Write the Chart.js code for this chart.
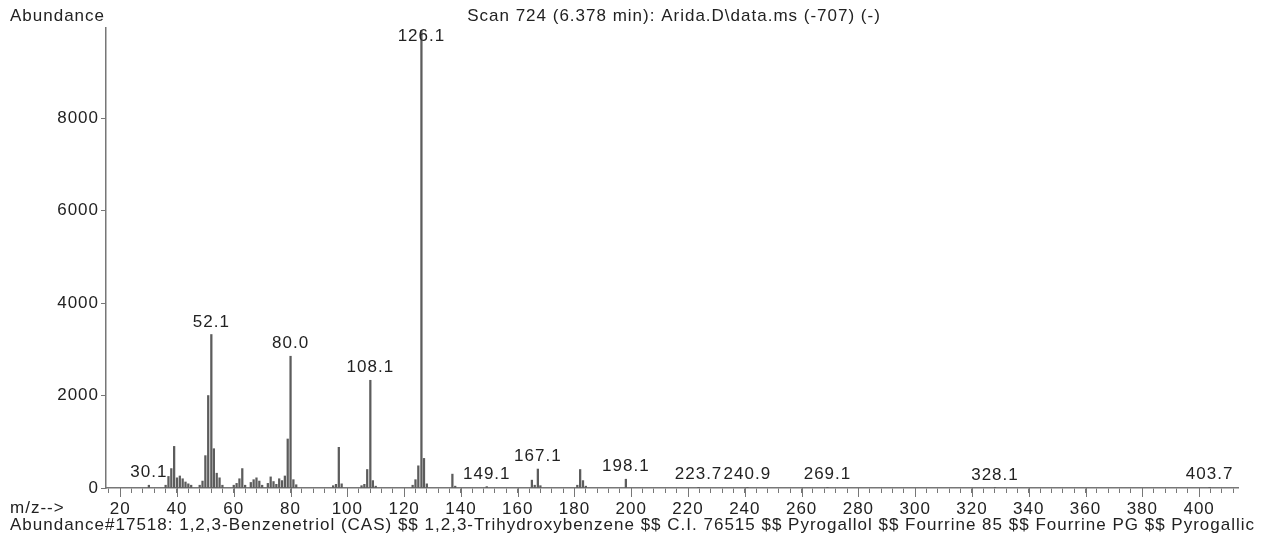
<!DOCTYPE html>
<html>
<head>
<meta charset="utf-8">
<script src="https://cdn.jsdelivr.net/npm/chart.js@4.4.0/dist/chart.umd.min.js"></script>
<style>
  body { margin: 0; background: #fff; }
</style>
</head>
<body>
<canvas id="spectrum" width="1263" height="547"></canvas>
<script>
// scan 724 peak list: m/z and abundance
var mzValues = [30.1, 36, 37, 38, 39, 40, 41, 42, 43, 44, 45,
	48, 49, 50, 51, 52.1, 53, 54, 55, 56,
	60, 61, 62, 63, 64, 66, 67, 68, 69, 70, 72, 73, 74, 75, 76, 77, 78,
	79, 80.0, 81, 82,
	95, 96, 97, 98,
	105, 106, 107, 108.1, 109, 110,
	123, 124, 125, 126.1, 127, 128,
	137, 138, 149.1,
	165, 166, 167.1, 168,
	181, 182, 183, 184,
	198.1, 223.7, 240.9, 269.1, 328.1, 403.7];
var abundances = [60, 60, 250, 420, 900, 220, 260, 200, 130, 90, 60,
	60, 150, 700, 2000, 3320, 850, 320, 220, 60,
	60, 100, 200, 420, 60, 120, 180, 220, 150, 60, 100, 240, 140, 80, 200, 160, 260,
	1060, 2850, 180, 70,
	50, 80, 880, 90,
	50, 80, 400, 2330, 160, 40,
	60, 180, 480, 9900, 640, 90,
	300, 40, 30,
	170, 60, 410, 50,
	60, 400, 160, 40,
	190, 15, 15, 15, 12, 15];
// peaks that get their m/z printed above them
var labelledPeaks = [30.1, 52.1, 80.0, 108.1, 126.1, 149.1, 167.1, 198.1, 223.7, 240.9, 269.1, 328.1, 403.7];
var yTicks = [0, 2000, 4000, 6000, 8000];

var titleText = "Scan 724 (6.378 min): Arida.D\\data.ms (-707) (-)";
var footerText = "Abundance#17518: 1,2,3-Benzenetriol (CAS) $$ 1,2,3-Trihydroxybenzene $$ C.I. 76515 $$ Pyrogallol $$ Fourrine 85 $$ Fourrine PG $$ Pyrogallic";

var FONT = "'Liberation Sans', Arial, sans-serif";
var TEXT_COLOR = "#222";
var AXIS_COLOR = "#777";

var points = mzValues.map((m, i) => ({x: m, y: abundances[i]}));

// m/z labels over the marked peaks + header/footer texts
var annotate = {
	id: "annotate",
	beforeDraw: function(chart) {
		// printout text runs a little wide
		chart.ctx.letterSpacing = "1px";
	},
	afterDatasetsDraw: function(chart) {
		var ctx = chart.ctx;
		var xs = chart.scales.x, ys = chart.scales.y;
		ctx.save();
		ctx.fillStyle = TEXT_COLOR;
		ctx.font = "17px " + FONT;
		ctx.textAlign = "center";
		ctx.textBaseline = "bottom";
		labelledPeaks.forEach(function(m) {
			var i = mzValues.indexOf(m);
			var px = xs.getPixelForValue(m);
			var py = Math.max(ys.getPixelForValue(abundances[i]) - 4, chart.chartArea.top + 17);
			ctx.fillText(m.toFixed(1), px, py);
		});
		ctx.restore();
	},
	afterDraw: function(chart) {
		var ctx = chart.ctx;
		var xs = chart.scales.x;
		var bottom = chart.chartArea.bottom;
		ctx.save();
		// longer ticks at every labelled m/z
		ctx.strokeStyle = AXIS_COLOR;
		ctx.lineWidth = 1;
		xs.ticks.forEach(function(t) {
			if (t.value % 20 === 0) {
				var px = Math.round(xs.getPixelForValue(t.value)) + 0.5;
				ctx.beginPath();
				ctx.moveTo(px, bottom);
				ctx.lineTo(px, bottom + 9);
				ctx.stroke();
			}
		});
		ctx.fillStyle = TEXT_COLOR;
		ctx.font = "17px " + FONT;
		ctx.textBaseline = "middle";
		ctx.textAlign = "left";
		ctx.fillText("Abundance", 10, 16);
		ctx.fillText("m/z-->", 10, 508);
		ctx.fillText(footerText, 10, 525);
		ctx.textAlign = "center";
		ctx.fillText(titleText, 674, 16);
		ctx.restore();
	}
};

new Chart(document.getElementById("spectrum").getContext("2d"), {
	type: "bar",
	data: {
		datasets: [{
			data: points,
			backgroundColor: "#5c5c5c",
			barThickness: 1.6
		}]
	},
	options: {
		responsive: false,
		animation: false,
		layout: { padding: { top: 28, right: 25, left: 0, bottom: 0 } },
		plugins: {
			legend: { display: false },
			tooltip: { enabled: false }
		},
		scales: {
			x: {
				type: "linear",
				min: 15,
				max: 413.7,
				offset: false,
				afterFit: function(s) { s.height = 59; },
				border: { color: AXIS_COLOR, width: 1.5 },
				grid: { drawOnChartArea: false, offset: false, tickLength: 5, color: AXIS_COLOR },
				ticks: {
					stepSize: 4,
					includeBounds: false,
					autoSkip: false,
					maxRotation: 0,
					padding: 6,
					color: TEXT_COLOR,
					font: { family: FONT, size: 17 },
					callback: (v) => v % 20 === 0 ? String(v) : ""
				}
			},
			y: {
				min: 0,
				max: 9950,
				afterFit: function(s) { s.width = 106; },
				afterBuildTicks: function(s) { s.ticks = yTicks.map(v => ({value: v})); },
				border: { color: AXIS_COLOR, width: 1.5 },
				grid: { drawOnChartArea: false, tickLength: 5, color: AXIS_COLOR },
				ticks: {
					padding: 2,
					color: TEXT_COLOR,
					font: { family: FONT, size: 17 },
					callback: (v) => String(v)
				}
			}
		}
	},
	plugins: [annotate]
});
</script>
</body>
</html>
